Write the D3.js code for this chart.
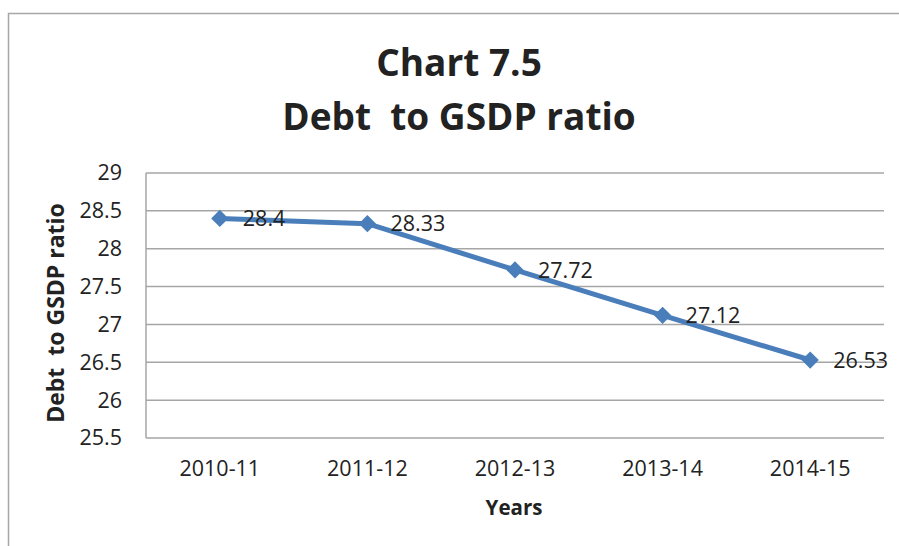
<!DOCTYPE html>
<html><head><meta charset="utf-8">
<script src="https://cdn.jsdelivr.net/npm/d3@7"></script>
<style>body{margin:0;background:#fff}svg{display:block}text{white-space:pre}</style>
</head><body>
<svg id="c" width="899" height="546"></svg>
<script>
const categories = ["2010-11","2011-12","2012-13","2013-14","2014-15"];
const values = [28.4, 28.33, 27.72, 27.12, 26.53];
const yTicks = [25.5, 26, 26.5, 27, 27.5, 28, 28.5, 29];
const titleLines = ["Chart 7.5", "Debt  to GSDP ratio"];
const yTitle = "Debt  to GSDP ratio";
const xTitle = "Years";

const svg = d3.select("#c");
const font = "'Open Sans', sans-serif";
const grid = "#a6a6a6";
const blue = "#4a7ebb";
const m = {left:146, top:173, right:884, bottom:438};

// outer border
svg.append("rect").attr("x",8.5).attr("y",13.5).attr("width",1000).attr("height",1000)
  .attr("fill","none").attr("stroke",grid).attr("stroke-width",1.5);

const x = d3.scaleBand().domain(categories).range([m.left, m.right]);
const y = d3.scaleLinear().domain([25.5, 29]).range([m.bottom, m.top]);

// gridlines
svg.append("g").selectAll("line").data(yTicks).join("line")
  .attr("x1", m.left).attr("x2", m.right)
  .attr("y1", d=>y(d)).attr("y2", d=>y(d))
  .attr("stroke", grid).attr("stroke-width",1.5);
svg.append("line").attr("x1",m.left).attr("x2",m.left).attr("y1",m.top).attr("y2",m.bottom)
  .attr("stroke",grid).attr("stroke-width",1.5);

// y axis labels
const ya = svg.append("g").attr("transform",`translate(${m.left},0)`)
  .call(d3.axisLeft(y).tickValues(yTicks).tickSize(0).tickPadding(24).tickFormat(d=>String(d)));
ya.select(".domain").remove();
ya.selectAll("text").attr("font-family",font).attr("font-size",21.5).attr("fill","#222");

// x axis labels
const xa = svg.append("g").attr("transform",`translate(0,${m.bottom})`)
  .call(d3.axisBottom(x).tickSize(0).tickPadding(23));
xa.select(".domain").remove();
xa.selectAll("text").attr("font-family",font).attr("font-size",21.5).attr("fill","#222");

// line
const cx = d => x(d) + x.bandwidth()/2;
const pts = categories.map((c,i)=>[cx(c), y(values[i])]);
svg.append("path").attr("d", d3.line()(pts)).attr("fill","none")
  .attr("stroke",blue).attr("stroke-width",5).attr("stroke-linejoin","round");
svg.append("g").selectAll("path").data(pts).join("path")
  .attr("d", d3.symbol(d3.symbolDiamond2, 190)())
  .attr("transform", d=>`translate(${d[0]},${d[1]})`).attr("fill",blue);

// data labels
svg.append("g").selectAll("text").data(pts).join("text")
  .attr("x", d=>d[0]+23).attr("y", d=>d[1]).attr("dy","0.36em")
  .attr("font-family",font).attr("font-size",21.5).attr("fill","#222")
  .text((d,i)=>String(values[i]));

// titles
svg.append("text").attr("x",459).attr("y",76).attr("text-anchor","middle")
  .attr("font-family",font).attr("font-weight","bold").attr("font-size",37).attr("fill","#222").text(titleLines[0]);
svg.append("text").attr("x",459).attr("y",130).attr("text-anchor","middle")
  .attr("font-family",font).attr("font-weight","bold").attr("font-size",37).attr("fill","#222").text(titleLines[1]);

svg.append("text").attr("transform","translate(64,313) rotate(-90)").attr("text-anchor","middle")
  .attr("font-family",font).attr("font-weight","bold").attr("font-size",23).attr("fill","#222").text(yTitle);
svg.append("text").attr("x",514).attr("y",515).attr("text-anchor","middle")
  .attr("font-family",font).attr("font-weight","bold").attr("font-size",20.5).attr("fill","#222").text(xTitle);
</script>
</body></html>
